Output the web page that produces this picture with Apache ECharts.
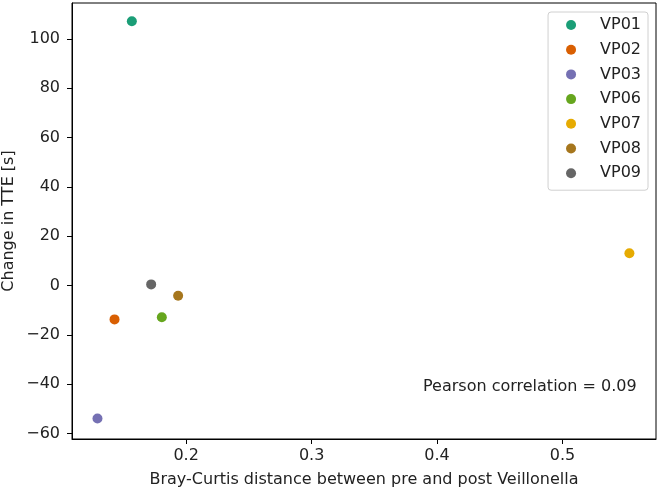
<!DOCTYPE html>
<html>
<head>
<meta charset="utf-8">
<script src="https://cdn.jsdelivr.net/npm/echarts@6/dist/echarts.min.js"></script>
<style>html,body{margin:0;padding:0;background:#fff}#c{width:660px;height:490px}</style>
</head>
<body>
<div id="c"></div>
<script>
const participants = ['VP01','VP02','VP03','VP06','VP07','VP08','VP09'];
const brayCurtis = [0.1567, 0.1429, 0.1293, 0.1806, 0.5533, 0.1936, 0.1721];
const changeTTE = [107.2, -13.7, -53.9, -12.8, 13.1, -4.1, 0.5];
const colors = ['#1b9e77','#d95f02','#7570b3','#66a61e','#e6ab02','#a6761d','#666666'];
const xTicks = [0.2, 0.3, 0.4, 0.5];
const yTicks = [-60, -40, -20, 0, 20, 40, 60, 80, 100];
const annotation = 'Pearson correlation = 0.09';

const font = 'DejaVu Sans';
const fs = 16;
const chart = echarts.init(document.getElementById('c'), null, {renderer: 'canvas'});
chart.setOption({
  animation: false,
  backgroundColor: '#fff',
  textStyle: {fontFamily: font},
  grid: {left: 72, right: 4, top: 3, bottom: 51, outerBoundsMode: 'none', containLabel: false,
    show: true, borderColor: '#000', borderWidth: 1, backgroundColor: 'transparent'},
  xAxis: {
    type: 'value', min: 0.109, max: 0.5745,
    name: 'Bray-Curtis distance between pre and post Veillonella',
    nameLocation: 'middle', nameGap: 33, nameMoveOverlap: false,
    nameTextStyle: {fontFamily: font, fontSize: fs, color: '#222'},
    axisLine: {show: true, onZero: false, lineStyle: {color: '#000', width: 1}},
    axisTick: {show: true, length: 5, lineStyle: {color: '#000'}, customValues: xTicks},
    axisLabel: {fontFamily: font, fontSize: fs, color: '#222', margin: 9, customValues: xTicks,
      formatter: v => String(Math.round(v * 10) / 10)},
    splitLine: {show: false}
  },
  yAxis: {
    type: 'value', min: -62.2, max: 114.6,
    name: 'Change in TTE [s]',
    nameLocation: 'middle', nameGap: 55, nameMoveOverlap: false,
    nameTextStyle: {fontFamily: font, fontSize: fs, color: '#222'},
    axisLine: {show: true, onZero: false, lineStyle: {color: '#000', width: 1}},
    axisTick: {show: true, length: 5, lineStyle: {color: '#000'}, customValues: yTicks},
    axisLabel: {fontFamily: font, fontSize: fs, color: '#222', margin: 12, customValues: yTicks,
      formatter: v => String(Math.round(v)).replace('-', '\u2212')},
    splitLine: {show: false}
  },
  legend: {
    orient: 'vertical', right: 12, top: 12,
    data: participants,
    icon: 'circle', itemWidth: 40, itemHeight: 10, itemGap: 8.7,
    padding: [5, 7, 9, 18],
    borderColor: '#d0d0d0', borderWidth: 1, borderRadius: 3,
    backgroundColor: 'rgba(255,255,255,0.8)',
    textStyle: {fontFamily: font, fontSize: fs, color: '#222', lineHeight: 14, padding: [0, 0, 0, 4]}
  },
  graphic: [{
    type: 'text', left: 423, top: 379,
    style: {text: annotation, font: fs + 'px "DejaVu Sans"', fill: '#222'}
  }],
  series: participants.map((p, i) => ({
    name: p, type: 'scatter', symbol: 'circle', symbolSize: 10,
    itemStyle: {color: colors[i], opacity: 1},
    data: [[brayCurtis[i], changeTTE[i]]]
  }))
});
</script>
</body>
</html>
